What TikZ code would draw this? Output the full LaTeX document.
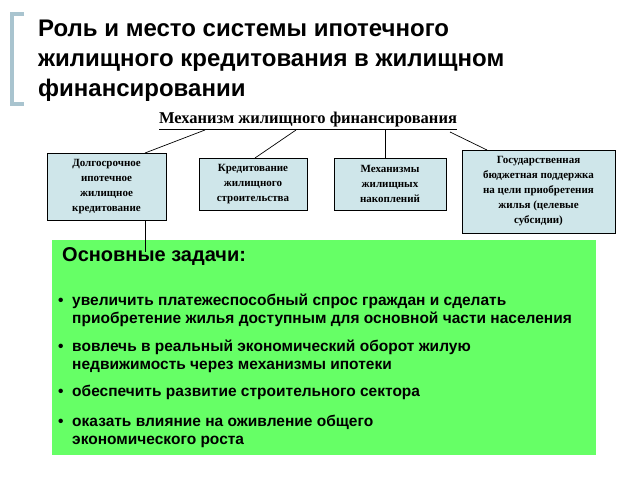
\documentclass[tikz,border=0pt]{standalone}
\usepackage{fontspec}
\setmainfont{Liberation Serif}
\newfontfamily\sansf{Liberation Sans}
\begin{document}
\begin{tikzpicture}[x=1pt,y=-1pt,
  bx/.style={draw=black,fill=boxc,line width=0.8pt,align=center,font=\fontsize{11}{15}\selectfont\bfseries,inner sep=0pt},
  ln/.style={line width=0.7pt}]
\definecolor{boxc}{HTML}{CFE6EA}
\definecolor{grn}{HTML}{66FF66}
\definecolor{brk}{HTML}{A9C4CF}
\useasboundingbox (0,0) rectangle (638,479);
\draw[brk,line width=4pt] (24,14) -- (12,14) -- (12,104) -- (24,104);
\node[anchor=north west,align=left,font=\sansf\fontsize{24}{30}\selectfont\bfseries,inner sep=0pt] (t) at (38,20) {Роль и место системы ипотечного\\жилищного кредитования в жилищном\\финансировании};
\node[font=\fontsize{16.5}{18}\selectfont\bfseries,inner sep=1pt] (h) at (308,121) {\underline{Механизм жилищного финансирования}};
\node[bx,minimum width=119,minimum height=67] (b1) at (106.5,186.5) {Долгосрочное\\ипотечное\\жилищное\\кредитование};
\node[bx,minimum width=108,minimum height=52] (b2) at (253,184) {Кредитование\\жилищного\\строительства};
\node[bx,minimum width=112,minimum height=52] (b3) at (390,184) {Механизмы\\жилищных\\накоплений};
\node[bx,minimum width=153,minimum height=83] (b4) at (538.5,191.5) {Государственная\\бюджетная поддержка\\на цели приобретения\\жилья (целевые\\субсидии)};
\node[fill=grn,minimum width=544,minimum height=215,inner sep=0pt] (g) at (324,347.5) {};
\coordinate (c1) at (205,130); \coordinate (c2) at (296,130);
\coordinate (c3) at (385,130); \coordinate (c4) at (450,132);
\draw[ln] (c1) -- (145,153);
\draw[ln] (c2) -- (255,158);
\draw[ln] (c3) -- (b3.north-|c3);
\draw[ln] (c4) -- (487,150);
\draw[ln] (b1.south-|145,0) -- (145,252);
\node[anchor=north west,font=\sansf\fontsize{20}{22}\selectfont\bfseries,inner sep=0pt] (z) at (62,247) {Основные задачи:};
\begin{scope}[every node/.style={anchor=north west,align=left,font=\sansf\fontsize{15.5}{18}\selectfont\bfseries,inner sep=0pt}]
\node (i1) at (58,294) {•\ \ увеличить платежеспособный спрос граждан и сделать\\\phantom{•\ \ }приобретение жилья доступным для основной части населения};
\node (i2) at (58,340) {•\ \ вовлечь в реальный экономический оборот жилую\\\phantom{•\ \ }недвижимость через механизмы ипотеки};
\node (i3) at (58,385) {•\ \ обеспечить развитие строительного сектора};
\node (i4) at (58,415) {•\ \ оказать влияние на оживление общего\\\phantom{•\ \ }экономического роста};
\end{scope}
\end{tikzpicture}
\end{document}
